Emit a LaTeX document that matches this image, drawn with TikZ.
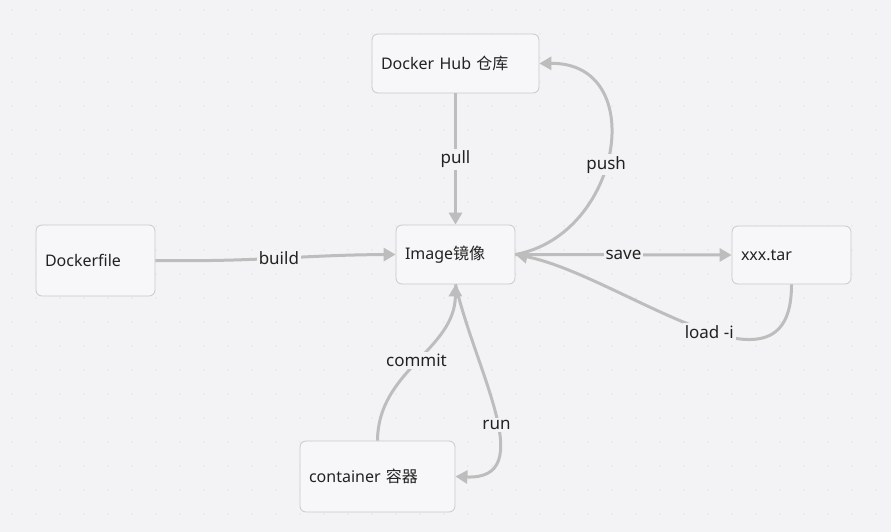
\documentclass[tikz,border=0pt]{standalone}
\usepackage{fontspec}
\setmainfont{Noto Sans}
\newfontfamily\cjk{Noto Sans CJK SC}
\usetikzlibrary{arrows.meta}
\definecolor{bgcol}{HTML}{F3F3F5}
\definecolor{edgecol}{HTML}{BDBDBD}
\definecolor{boxcol}{HTML}{C9C9CC}
\definecolor{boxfill}{HTML}{F7F7F9}
\definecolor{dotcol}{HTML}{D6D6DA}
\definecolor{txtcol}{HTML}{222222}
\tikzset{
  box/.style={draw=boxcol, fill=boxfill, rounded corners=6pt, line width=0.8pt, text=txtcol,
    align=left, inner xsep=9pt, font=\fontsize{16}{18}\selectfont},
  link/.style={draw=edgecol, line width=3pt, -{Triangle[length=12pt,width=13pt]}},
  lbl/.style={fill=bgcol, text=txtcol, inner sep=2pt, font=\fontsize{17}{19}\selectfont},
}
\begin{document}
\begin{tikzpicture}[x=1pt,y=-1pt]
    \fill[bgcol] (0,0) rectangle (891,532);
    \useasboundingbox (0,0) rectangle (891,532);
    \foreach \i in {0,...,37}
      \foreach \j in {0,...,22}
        \fill[dotcol] (\i*24+12,\j*24+10) circle (0.7pt);
    \node[box, text width=149pt, minimum height=59pt] (hub) at (455.5,63.5) {Docker Hub {\cjk 仓库}};
    \node[box, text width=101pt, minimum height=59pt] (img) at (455.5,254.5) {Image{\cjk 镜像}};
    \node[box, text width=101pt, minimum height=71pt] (dfile) at (95.5,260.5) {Dockerfile};
    \node[box, text width=101pt, minimum height=58pt] (tar) at (791.5,255) {xxx.tar};
    \node[box, text width=137pt, minimum height=71pt] (cont) at (377.5,476.5) {container {\cjk 容器}};
    \draw[link] (hub) -- node[lbl]{pull} (img);
    \draw[link] (img.east) .. controls (622,235) and (650,62) .. node[lbl,pos=0.45]{push} (hub.east);
    \draw[link] (img.east) -- node[lbl]{save} (tar.west);
    \draw[link] (tar.south) .. controls (792,415) and (620,275) .. node[lbl,pos=0.45]{load -i} (img.east);
    \draw[link] (dfile.east) .. controls (260,262) and (300,255) .. node[lbl]{build} (img.west);
    \draw[link] (cont.north) .. controls (378,370) and (455,350) .. node[lbl]{commit} (img.south);
    \draw[link] (img.south) .. controls (475,370) and (540,480) .. node[lbl,pos=0.55]{run} (cont.east);
  \end{tikzpicture}
\end{document}
